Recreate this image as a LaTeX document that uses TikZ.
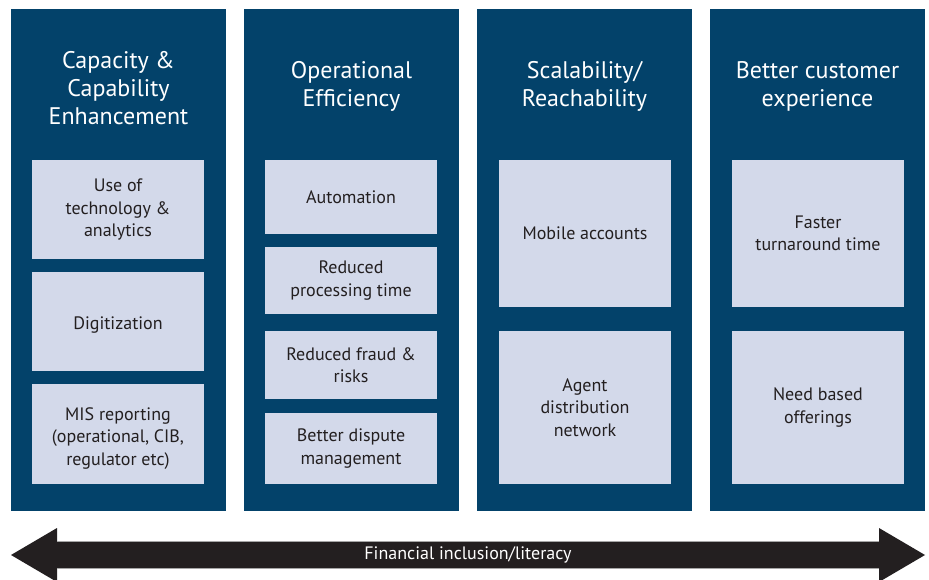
\documentclass[tikz,border=0pt]{standalone}
\usepackage{fontspec}
\setmainfont{PT Sans}
\definecolor{navy}{HTML}{03426A}
\definecolor{cellfill}{HTML}{D3D9EA}
\definecolor{ink}{HTML}{231F20}
\newcommand{\liftstrut}[1]{\rule{0pt}{#1}}
\tikzset{
  column/.style={fill=navy, draw=none, minimum width=215pt, inner sep=0pt},
  heading/.style={text=white, align=center, inner sep=0pt, font=\fontsize{24}{28}\selectfont},
  cell/.style={fill=cellfill, draw=none, minimum width=172pt, inner sep=0pt, text=ink,
    align=center, font=\fontsize{18}{22.5}\selectfont},
  banner/.style={fill=ink, draw=none},
  bannerrim/.style={draw=gray!70, line width=0.8pt},
  bannertext/.style={text=white, inner sep=0pt, font=\fontsize{18}{20}\selectfont}
}
\begin{document}
\begin{tikzpicture}[x=1pt, y=-1pt]
  \fill[white] (0,0) rectangle (929,580);
  \useasboundingbox (0,0) rectangle (929,580);

  % four pillars
  \node[column, minimum height=502pt] (p1) at (118.5,260) {};
  \node[column, minimum height=502pt] (p2) at (351.5,260) {};
  \node[column, minimum height=502pt] (p3) at (584.5,260) {};
  \node[column, minimum height=502pt] (p4) at (817.5,260) {};

  % headings
  \node[heading] (h1) at (118.5,88) {Capacity \&\\Capability\\Enhancement};
  \node[heading] (h2) at (351.5,86) {Operational\\Efficiency};
  \node[heading] (h3) at (584.5,86) {Scalability/\\Reachability};
  \node[heading] (h4) at (817.5,86) {Better customer\\experience};

  % pillar 1 (a taller first line sets the text a little lower in its cell)
  \node[cell, minimum height=99pt] (a1) at (118,209.5) {Use of\\technology \&\\analytics};
  \node[cell, minimum height=99pt] (a2) at (118,321.5) {\liftstrut{19.5pt}Digitization};
  \node[cell, minimum height=100pt] (a3) at (118,434) {\liftstrut{21pt}MIS reporting\\(operational, CIB,\\regulator etc)};

  % pillar 2
  \node[cell, minimum height=74pt] (b1) at (351,197) {Automation};
  \node[cell, minimum height=67pt] (b2) at (351,280.5) {Reduced\\processing time};
  \node[cell, minimum height=68pt] (b3) at (351,365) {Reduced fraud \&\\risks};
  \node[cell, minimum height=71pt] (b4) at (351,448.5) {Better dispute\\management};

  % pillar 3
  \node[cell, minimum height=147pt] (c1) at (585,233.5) {Mobile accounts};
  \node[cell, minimum height=153pt] (c2) at (585,407.5) {Agent\\distribution\\network};

  % pillar 4
  \node[cell, minimum height=147pt] (d1) at (818,233.5) {Faster\\turnaround time};
  \node[cell, minimum height=153pt] (d2) at (818,407.5) {Need based\\offerings};

  % double-headed banner arrow
  \coordinate (tipL) at (11,555);
  \coordinate (tipR) at (925,555);
  \fill[banner] (tipL) -- (57,528) -- (57,541) -- (879,541) -- (879,528) -- (tipR)
    -- (879,582) -- (879,568) -- (57,568) -- (57,582) -- cycle;
  \draw[bannerrim] (57,541) -- (879,541);
  \draw[bannerrim] (57,568) -- (879,568);
  \node[bannertext] (band) at (468,555) {Financial inclusion/literacy};
\end{tikzpicture}
\end{document}
